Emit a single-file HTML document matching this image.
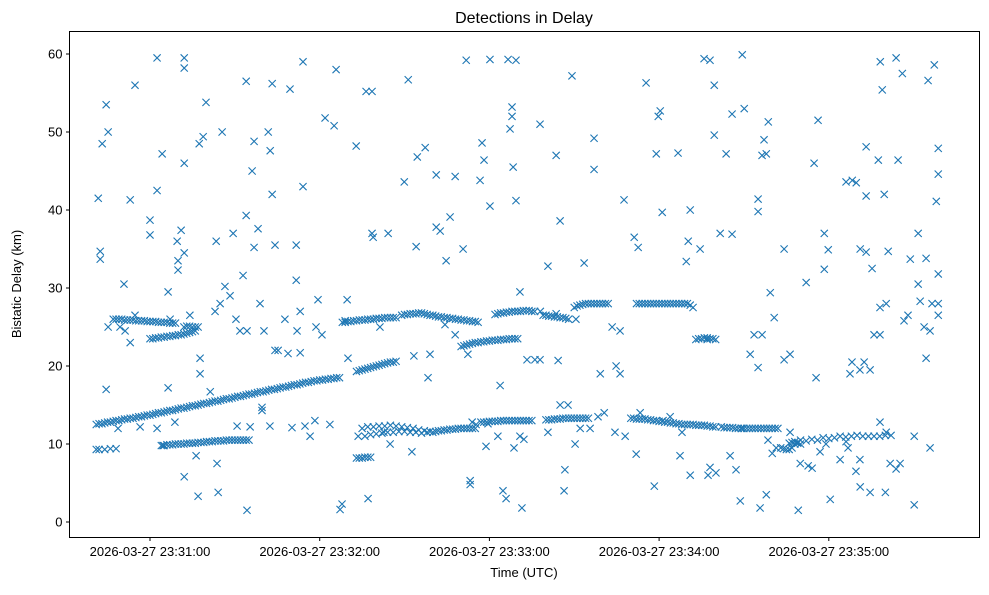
<!DOCTYPE html>
<html><head><meta charset="utf-8"><style>
body{margin:0;background:#fff;font-family:"Liberation Sans",sans-serif}
svg text{font-family:"Liberation Sans",sans-serif;fill:#000}
</style></head><body>
<svg id="chart" width="989" height="590" viewBox="0 0 989 590" xmlns="http://www.w3.org/2000/svg">
<rect x="0" y="0" width="989" height="590" fill="#fff"/>
<text x="524" y="23" font-size="16" text-anchor="middle">Detections in Delay</text>
<g id="marks"></g>
<rect x="69.5" y="31.5" width="910" height="506" fill="none" stroke="#000" stroke-width="1"/>
<g id="axes"></g>
<text x="524" y="577" font-size="13" text-anchor="middle">Time (UTC)</text>
<text transform="translate(21,284) rotate(-90)" font-size="13" text-anchor="middle">Bistatic Delay (km)</text>
</svg>
<script>
// times: seconds after 23:30:00 UTC; delays: km
const xTickSeconds=[60,120,180,240,300];
const xTickLabels=["2026-03-27 23:31:00","2026-03-27 23:32:00","2026-03-27 23:33:00","2026-03-27 23:34:00","2026-03-27 23:35:00"];
const yTicks=[0,10,20,30,40,50,60];
const risingTimes=[41,42,43,44,45,46,47,48,49,50,51,52,53,54,55,56,57,58,59,60,61,62,63,64,65,66,67,68,69,70,71,72,73,74,75,76,77,78,79,80,81,82,83,84,85,86,87,88,89,90,91,92,93,94,95,96,97,98,99,100,101,102,103,104,105,106,107,108,109,110,111,112,113,114,115,116,117,118,119,120,121,122,123,124,125,126,127,133,134,135,136,137,138,139,140,141,142,143,144,145,146,147];
const risingDelays=[12.5,12.6,12.6,12.7,12.8,12.8,12.9,13.0,13.0,13.1,13.2,13.2,13.3,13.3,13.4,13.5,13.5,13.6,13.7,13.7,13.8,13.9,14.0,14.0,14.1,14.2,14.3,14.3,14.4,14.5,14.6,14.6,14.7,14.8,14.9,14.9,15.0,15.1,15.2,15.2,15.3,15.4,15.5,15.5,15.6,15.7,15.8,15.8,15.9,16.0,16.1,16.1,16.2,16.3,16.4,16.4,16.5,16.6,16.7,16.7,16.8,16.9,17.0,17.0,17.1,17.2,17.3,17.3,17.4,17.5,17.6,17.6,17.7,17.8,17.9,17.9,18.0,18.1,18.1,18.2,18.2,18.3,18.3,18.4,18.4,18.5,18.5,19.3,19.4,19.5,19.6,19.7,19.8,19.9,20.0,20.1,20.2,20.3,20.4,20.5,20.5,20.6];
const upperTimes=[47,48,49,50,51,52,53,54,55,56,57,58,59,60,61,62,63,64,65,66,67,68,69,60,61,62,63,64,65,66,67,68,69,70,71,72,73,74,75,76,72,73,74,75,76,77,128,129,130,131,132,133,134,135,136,137,138,139,140,141,142,143,144,145,146,147,149,150,151,152,153,154,155,156,157,158,159,160,161,162,163,164,165,166,167,168,169,170,171,172,173,174,175,176,170,171,172,173,174,175,176,177,178,179,180,181,182,183,184,185,186,187,188,189,190,182,183,184,185,186,187,188,189,190,191,192,193,194,195,196,198,199,200,201,202,203,204,205,206,207,208,210,211,212,213,214,215,216,217,218,219,220,221,222,232,233,234,235,236,237,238,239,240,241,242,243,244,245,246,247,248,249,250,251,252,253,254,255,256,257,258,259,260,257,258,259,260,261,262,263,264,265];
const upperDelays=[26.0,26.0,26.0,26.0,25.9,25.9,25.9,25.9,25.8,25.8,25.8,25.8,25.7,25.7,25.7,25.7,25.6,25.6,25.6,25.6,25.5,25.5,25.5,23.5,23.5,23.6,23.6,23.7,23.7,23.8,23.8,23.9,23.9,24.0,24.0,24.1,24.2,24.3,24.4,24.5,25.0,25.1,25.1,25.0,25.0,25.0,25.6,25.6,25.7,25.7,25.8,25.8,25.9,25.9,25.9,26.0,26.0,26.0,26.1,26.1,26.1,26.2,26.2,26.2,26.2,26.2,26.5,26.6,26.6,26.7,26.7,26.7,26.8,26.8,26.7,26.6,26.5,26.5,26.4,26.3,26.3,26.2,26.2,26.1,26.1,26.0,26.0,25.9,25.9,25.8,25.8,25.7,25.7,25.6,22.5,22.6,22.7,22.8,22.9,23.0,23.0,23.1,23.1,23.2,23.2,23.3,23.3,23.3,23.4,23.4,23.4,23.5,23.5,23.5,23.5,26.6,26.7,26.8,26.8,26.9,26.9,27.0,27.0,27.0,27.0,27.1,27.1,27.1,27.0,27.0,27.0,26.5,26.5,26.4,26.4,26.3,26.3,26.2,26.2,26.1,26.0,27.5,27.7,27.8,27.9,28.0,28.0,28.0,28.0,28.0,28.0,28.0,28.0,28.0,28.0,28.0,28.0,28.0,28.0,28.0,28.0,28.0,28.0,28.0,28.0,28.0,28.0,28.0,28.0,28.0,28.0,28.0,28.0,27.8,27.5,23.4,23.5,23.5,23.6,23.6,23.5,23.5,23.4,23.4];
const lowerTimes=[41,42,44,46,48,64,65,66,67,68,69,70,71,72,73,74,75,76,77,78,79,80,81,82,83,84,85,86,87,88,89,90,91,92,93,94,95,133,134,135,136,137,138,135,136,137,138,139,140,141,142,143,144,145,146,147,148,149,150,151,152,153,154,155,156,157,158,159,160,161,162,163,164,165,166,167,168,169,170,171,172,173,174,175,177,178,179,180,181,182,183,184,185,186,187,188,189,190,191,192,193,194,195,200,201,202,203,204,205,206,207,208,209,210,211,212,213,214,215,230,231,232,233,234,235,236,237,238,239,240,241,242,243,244,245,246,247,248,249,250,251,252,253,254,255,256,257,258,259,260,262,263,264,265,266,267,268,269,270,271,272,273,274,275,276,277,278,279,280,281,282,283,284,285,286,287,288,289,290,286,287,288,289,290,292,294,296,298,300,302,304,306,308,310,312,314,316,318,320,322,324,326,328,330,332,334,336,338];
const lowerDelays=[9.3,9.3,9.3,9.4,9.4,9.8,9.8,9.9,9.9,9.9,10.0,10.0,10.0,10.0,10.1,10.1,10.1,10.1,10.2,10.2,10.2,10.3,10.3,10.3,10.4,10.4,10.4,10.4,10.5,10.5,10.5,10.5,10.5,10.5,10.5,10.5,10.5,8.2,8.2,8.2,8.3,8.3,8.3,12.0,11.0,12.2,11.2,12.2,11.3,12.3,11.4,12.3,11.5,12.4,11.5,12.3,11.6,12.2,11.6,12.1,11.5,12.0,11.5,11.8,11.4,11.7,11.5,11.6,11.5,11.6,11.7,11.7,11.8,11.8,11.9,11.9,11.9,12.0,12.0,12.0,12.0,12.0,12.0,12.0,12.8,12.8,12.8,12.9,12.9,12.9,12.9,13.0,13.0,13.0,13.0,13.0,13.0,13.0,13.0,13.0,13.0,13.0,13.0,13.1,13.1,13.1,13.2,13.2,13.2,13.3,13.3,13.3,13.3,13.3,13.3,13.3,13.3,13.3,13.3,13.3,13.3,13.2,13.2,13.2,13.2,13.1,13.1,13.0,13.0,12.9,12.9,12.8,12.8,12.7,12.7,12.6,12.6,12.5,12.5,12.5,12.5,12.5,12.4,12.4,12.4,12.4,12.3,12.3,12.2,12.2,12.2,12.1,12.1,12.1,12.1,12.0,12.0,12.0,12.0,12.0,12.0,12.0,12.0,12.0,12.0,12.0,12.0,12.0,12.0,12.0,12.0,9.5,9.4,9.3,9.3,9.5,10.0,10.1,10.0,10.1,10.2,10.3,10.2,10.5,10.4,10.6,10.5,10.8,10.7,10.8,11.0,10.9,11.0,11.1,11.0,11.0,11.0,11.0,11.1,11.1];
const noiseTimes=[41.7,42.4,42.4,43.1,44.5,45.2,44.5,45.2,50.8,53,54.7,60,60,62.5,62.5,64.3,66.4,66.4,69.6,69.9,69.9,71,72.1,72.1,72.1,72.1,72.1,77,77.4,78.8,79.8,77.7,77.7,81.3,83.4,83.7,84.1,85.5,86.5,88.3,89.4,90.4,92.9,94,94,94.3,96.1,96.8,96.8,98.2,98.9,100.3,101.8,102.5,103.2,103.2,104.2,109.5,111.7,111.7,113.1,114.1,114.1,116.6,119.4,121.9,125.1,125.8,127.9,127.2,129.7,132.9,136.4,138.5,138.5,138.9,137.1,144.2,149.9,151.3,154.1,154.5,157.3,161.2,161.2,162.6,164.7,166.1,167.9,170.7,171.8,173.2,173.2,176.7,177.4,178.1,180.2,180.2,183.8,185.9,186.6,188.4,188,188,187.3,189.4,189.4,190.8,191.5,197.9,200.7,203.6,205,209.2,213.5,217,217,227.6,231.2,232.6,235.4,239,239.7,240.4,241.1,246.7,249.6,250.3,251,254.5,255.9,258,259.5,259.5,261.6,263.7,265.8,265.8,269.4,270.1,275,275,276.4,277.1,277.9,278.6,279.3,280.7,284.2,284.2,286.3,289.2,292,294.8,296.2,298.4,298.4,299.8,306.1,308.3,309.7,311.1,313.2,313.2,313.2,315.3,317.5,318.2,318.9,319.6,321,323.8,324.5,326,328.8,331.6,331.6,334.4,335.1,337.3,338,338.7,338.7,338.7,330.2,300.5,289.9,311.1,314.6,320,268.7,275.7,277.9,238.3,220.6,219.2,224.8,226.2,223.4,226.2,206.4,210.3,205,212.1];
const noiseDelays=[41.5,34.7,33.7,48.5,53.5,50,17,25,30.5,41.3,56,38.7,36.8,59.5,42.5,47.2,29.5,17.2,36,33.5,32.3,37.4,34.5,59.5,58.2,46,5.8,3.3,48.5,49.4,53.8,21,19,16.7,36,7.5,3.8,50,30.2,29,37,26,31.6,39.3,56.5,1.5,45,35.2,48.8,37.6,28,24.5,50,47.6,56.2,42,35.5,55.5,35.5,31,27,59,43,11,28.5,51.8,50.8,58,2.3,1.6,28.5,48.2,55.2,55.2,37,36.5,3,37,43.6,56.7,35.3,46.8,48,44.5,37.8,37.3,33.5,39.1,44.3,35,59.2,5.3,4.8,43.8,48.6,46.4,40.5,59.3,17.5,3,59.3,45.5,53.2,52,50.4,41.2,59.2,29.5,1.8,51,32.8,47,38.6,57.2,33.2,49.2,45.2,41.3,36.5,35.2,56.3,47.2,52,52.7,39.7,47.3,33.4,36,40,35,59.4,59.2,49.6,56,37,47.2,52.3,36.9,59.9,53,41.4,39.8,47,49,47.2,51.3,29.4,26.2,35,20.8,21.5,1.5,30.7,46,51.5,37,32.4,34.9,43.6,43.8,43.5,35,34.6,48.1,41.8,32.5,46.4,59,55.4,42,34.7,59.5,46.4,57.5,33.7,37,30.5,33.8,56.6,58.6,41.1,47.9,44.6,31.8,2.2,2.9,7.5,4.5,3.8,3.8,2.7,1.8,3.5,4.6,14,19,20,19,25,24.5,4,10,15,12];
const midNoiseTimes=[48.7,49.4,51.2,53,54.7,56.5,62.5,64.6,67.1,68.8,74.1,76.3,83,84.8,90.8,91.8,94.3,95.4,99.6,99.6,102.4,104.2,105.3,107.7,108.8,110.2,112,113.1,114.8,118.3,118.7,120.8,123.6,129,130,133.6,141.3,142.7,144.9,152.6,153.3,158.3,159,164.3,167.9,172.4,173.9,175.3,178.8,179.5,183,184.8,188.7,190.8,192.2,193.3,196.1,197.9,200.7,203.6,204.3,206.7,207.8,210.6,215.6,218.4,224.4,228,231.9,233.3,241.4,243.9,247.4,248.1,251,257.3,258,260.1,265.1,267.2,269.3,272.2,273.6,275,276.4,278.5,280,281.4,286.3,292.7,294.1,295.5,296.9,299,304,306.8,307.5,308.2,309.6,311,312.5,314.6,318.1,320.3,321.7,323.8,325.2,326.6,328,330.2,332.3,333.7,336.5,338.7,338.7,334.4,335.8,335.8,318.1,320.3,316,318.1,311,306.1];
const midNoiseDelays=[12,25,24.5,23,26.5,12.2,12,9.8,26,12.8,26.5,8.5,27,28,12.3,24.5,24.5,12.2,14.7,14.3,12.3,22,22,26,21.6,12.1,24.5,21.7,12.3,13,25,24,12.5,25.8,21,11,25,11.5,10,9,21.3,18.5,21.5,25.3,24,21.5,12.8,12.5,9.7,12.6,11,4,9.5,11,10.6,20.8,20.8,20.8,11.5,26.7,20.7,6.7,15,26,12,13.5,11.5,11,8.7,14,13,13.5,8.5,11.5,6,6,7,6.3,8.5,6.7,12,21.5,24,19.8,24,10.5,8.8,9.5,11.5,7.2,6.9,18.5,9,10,8,9.5,19,20.5,6.5,19.5,20.5,19.5,12.8,11.5,7.5,6.8,7.5,25.8,26.5,11,28.3,25,28,28,26.5,21,24.5,9.5,27.5,28,24,24,8,10.3];

const X0=69.5,X1=979.5,Y0=31.5,Y1=537.5;
function xScale(t){return 150+(t-60)*(169.7/60);}
function yScale(d){return 522-d*7.8;}
const NS="http://www.w3.org/2000/svg";
const marks=document.getElementById('marks');
function plot(ts,ds){
  for(let i=0;i<ts.length&&i<ds.length;i++){
    const x=xScale(ts[i]),y=yScale(ds[i]),r=3.6;
    const p=document.createElementNS(NS,'path');
    p.setAttribute('d',`M${x-r},${y-r}L${x+r},${y+r}M${x-r},${y+r}L${x+r},${y-r}`);
    p.setAttribute('stroke','#1f77b4');p.setAttribute('stroke-width','1.1');p.setAttribute('fill','none');
    
    
    marks.appendChild(p);
  }
}
plot(risingTimes,risingDelays);
plot(upperTimes,upperDelays);
plot(lowerTimes,lowerDelays);
plot(noiseTimes,noiseDelays);
plot(midNoiseTimes,midNoiseDelays);
const axes=document.getElementById('axes');
yTicks.forEach(v=>{
  const y=yScale(v);
  const l=document.createElementNS(NS,'line');
  l.setAttribute('x1',X0-3.5);l.setAttribute('x2',X0);l.setAttribute('y1',y);l.setAttribute('y2',y);l.setAttribute('stroke','#000');
  
  
  axes.appendChild(l);
  const t=document.createElementNS(NS,'text');
  t.setAttribute('x',X0-7);t.setAttribute('y',y+4.5);t.setAttribute('font-size','13');t.setAttribute('text-anchor','end');
  t.textContent=v;
  
  
  axes.appendChild(t);
});
xTickSeconds.forEach((s,i)=>{
  const x=xScale(s);
  const l=document.createElementNS(NS,'line');
  l.setAttribute('x1',x);l.setAttribute('x2',x);l.setAttribute('y1',Y1);l.setAttribute('y2',Y1+3.5);l.setAttribute('stroke','#000');
  
  
  axes.appendChild(l);
  const t=document.createElementNS(NS,'text');
  t.setAttribute('x',x);t.setAttribute('y',556);t.setAttribute('font-size','13');t.setAttribute('text-anchor','middle');
  t.textContent=xTickLabels[i];
  
  
  axes.appendChild(t);
});
</script>
</body></html>
